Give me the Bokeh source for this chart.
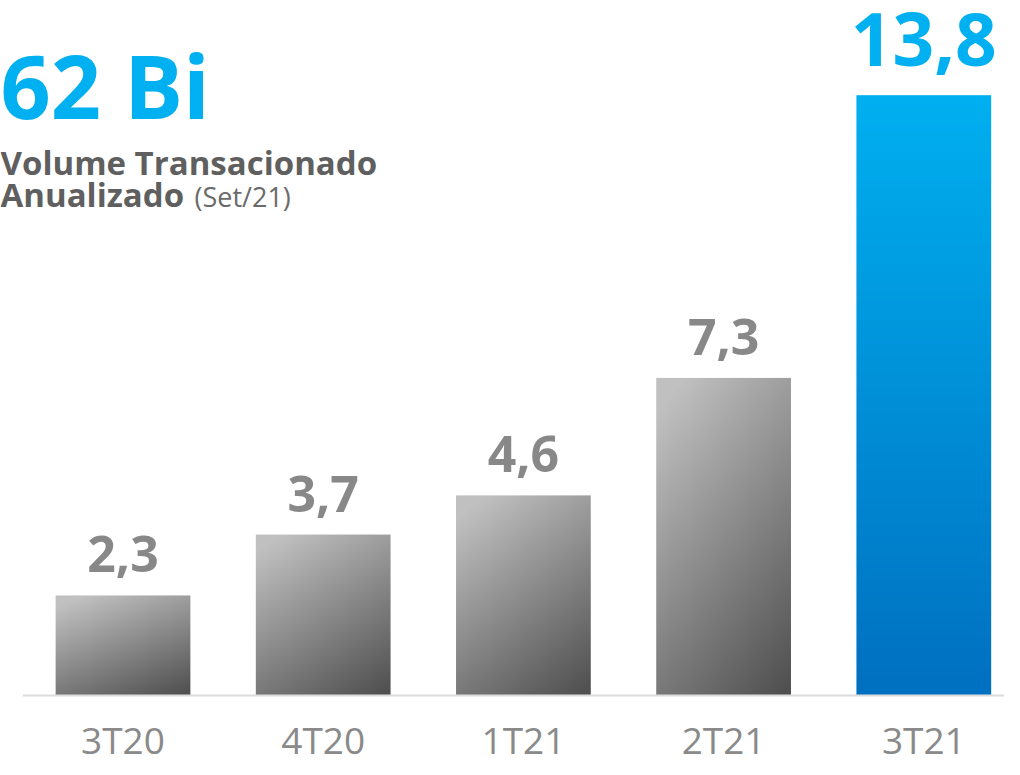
import numpy as np
from bokeh.plotting import figure
from bokeh.models import Range1d, Label, ColumnDataSource
from bokeh.core.properties import value
from bokeh.embed import file_html
from bokeh.resources import INLINE

# ---- data ----
categories = ["3T20", "4T20", "1T21", "2T21", "3T21"]
values = [2.3, 3.7, 4.6, 7.3, 13.8]
value_labels = ["2,3", "3,7", "4,6", "7,3", "13,8"]
highlight = [False, False, False, False, True]
headline = "62 Bi"
subtitle_bold_1 = "Volume Transacionado"
subtitle_bold_2 = "Anualizado"
subtitle_light = "(Set/21)"

# ---- layout constants ----
W, H = 1004, 759
px_per_cat = 200.2
px_per_unit = 43.5
x0_px = 122.5
base_px = 695
bar_w = 0.673

x_start = -x0_px / px_per_cat
x_end = x_start + W / px_per_cat
y_start = -(H - base_px) / px_per_unit
y_end = y_start + H / px_per_unit

p = figure(width=W, height=H, x_range=Range1d(x_start, x_end),
           y_range=Range1d(y_start, y_end), output_backend="svg",
           toolbar_location=None, min_border=0, min_border_left=0,
           min_border_right=0, min_border_top=0, min_border_bottom=0)
p.axis.visible = False
p.grid.visible = False
p.outline_line_color = None
p.background_fill_color = "white"
p.border_fill_color = "white"


def rgba_image(r, g, b):
    ny, nx = r.shape
    img = np.empty((ny, nx), dtype=np.uint32)
    view = img.view(dtype=np.uint8).reshape((ny, nx, 4))
    view[..., 0] = np.clip(r, 0, 255).astype(np.uint8)
    view[..., 1] = np.clip(g, 0, 255).astype(np.uint8)
    view[..., 2] = np.clip(b, 0, 255).astype(np.uint8)
    view[..., 3] = 255
    return img


imgs, xs, ys, dws, dhs = [], [], [], [], []
for i, (v, hl) in enumerate(zip(values, highlight)):
    nx = 140
    ny = max(int(round(v * px_per_unit)), 2)
    u = np.linspace(0, 1, nx)[None, :]
    vv = np.linspace(0, 1, ny)[:, None]  # 0 bottom, 1 top
    if hl:
        t = np.broadcast_to(1 - vv, (ny, nx))
        r = 0 * t
        g = 176 - 64 * t
        b = 240 - 48 * t
    else:
        t = 0.35 * u + 0.65 * (1 - vv)
        t = np.clip((t - 0.08) / 0.92, 0, 1)
        c = 192 - 114 * t
        r = g = b = c
    imgs.append(rgba_image(np.asarray(r, float), np.asarray(g, float), np.asarray(b, float)))
    xs.append(i - bar_w / 2)
    ys.append(0)
    dws.append(bar_w)
    dhs.append(v)

p.image_rgba(image=imgs, x=xs, y=ys, dw=dws, dh=dhs)

# baseline
p.segment(x0=[-0.5], y0=[0], x1=[len(categories) + 1], y1=[0],
          line_color="#dcdcdc", line_width=2)

# value labels
src = ColumnDataSource(dict(
    x=list(range(len(values))),
    y=values,
    text=value_labels,
    color=["#00b0f0" if h else "#888888" for h in highlight],
    size=["73px" if h else "50px" for h in highlight],
    yoff=[-56 if h else -41 for h in highlight],
))
p.text(x="x", y="y", text="text", source=src, text_font=value("Open Sans"),
       text_font_style="bold", text_font_size="size", text_color="color",
       text_align="center", text_baseline="alphabetic", y_offset="yoff")

# category labels
csrc = ColumnDataSource(dict(x=list(range(len(categories))),
                             y=[0] * len(categories), text=categories))
p.text(x="x", y="y", text="text", source=csrc, text_font=value("Open Sans"),
       text_font_size="37px", text_color="#8a8a8a", text_align="center",
       text_baseline="alphabetic", y_offset=44)

# headline and subtitle
p.add_layout(Label(x=0, y=H - 84, x_units="screen", y_units="screen",
                   text=headline, text_font="Open Sans", text_font_style="bold",
                   text_font_size="88px", text_color="#00b0f0",
                   text_baseline="alphabetic"))
p.add_layout(Label(x=0, y=H - 162, x_units="screen", y_units="screen",
                   text=subtitle_bold_1, text_font="Open Sans", text_font_style="bold",
                   text_font_size="33px", text_color="#5f5f5f",
                   text_baseline="alphabetic"))
p.add_layout(Label(x=0, y=H - 194, x_units="screen", y_units="screen",
                   text=subtitle_bold_2, text_font="Open Sans", text_font_style="bold",
                   text_font_size="33px", text_color="#5f5f5f",
                   text_baseline="alphabetic"))
p.add_layout(Label(x=194, y=H - 196, x_units="screen", y_units="screen",
                   text=subtitle_light, text_font="Open Sans",
                   text_font_size="27px", text_color="#6a6a6a",
                   text_baseline="alphabetic"))

open("out.html", "w").write(file_html(p, INLINE))
